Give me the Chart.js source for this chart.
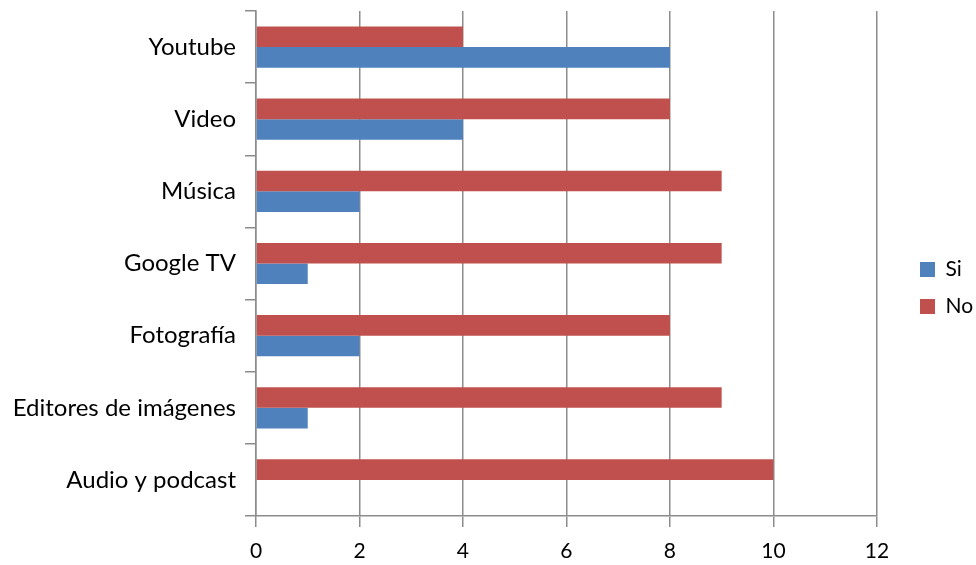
<!DOCTYPE html>
<html>
<head>
<meta charset="utf-8">
<script src="https://cdn.jsdelivr.net/npm/chart.js@4"></script>
<style>
html,body{margin:0;padding:0;background:#fff;}
#wrap{width:976px;height:565px;position:relative;}
</style>
</head>
<body>
<div id="wrap"><canvas id="c" width="976" height="565"></canvas></div>
<script>
const categories = ["Youtube", "Video", "Música", "Google TV", "Fotografía", "Editores de imágenes", "Audio y podcast"];
const siValues = [8, 4, 2, 1, 2, 1, 0];
const noValues = [4, 8, 9, 9, 8, 9, 10];
const xTicks = [0, 2, 4, 6, 8, 10, 12];

const FONT = "Lato, 'Liberation Sans', sans-serif";
const GRID = '#8c8c8c';

const legendShift = {
  id: 'legendShift',
  afterLayout(chart) {
    const lg = chart.legend;
    if (!lg) return;
    const dx = 904 - lg.left;
    lg.left += dx;
    lg.right += dx;
  }
};

new Chart(document.getElementById('c'), {
  type: 'bar',
  data: {
    labels: categories,
    datasets: [
      { label: 'No', data: noValues, backgroundColor: '#C0504D', borderWidth: 0,
        categoryPercentage: 0.5714, barPercentage: 1.0 },
      { label: 'Si', data: siValues, backgroundColor: '#4F81BD', borderWidth: 0,
        categoryPercentage: 0.5714, barPercentage: 1.0 }
    ]
  },
  plugins: [legendShift],
  options: {
    indexAxis: 'y',
    responsive: false,
    animation: false,
    maintainAspectRatio: false,
    layout: { padding: { top: 11, left: 0, right: 20, bottom: 0 } },
    plugins: {
      legend: {
        position: 'right',
        reverse: true,
        labels: {
          font: { family: FONT, size: 21 },
          color: '#000',
          boxWidth: 15,
          boxHeight: 15,
          padding: 16
        }
      },
      tooltip: { enabled: false }
    },
    scales: {
      x: {
        type: 'linear',
        min: 0,
        max: 12,
        afterBuildTicks: (axis) => { axis.ticks = xTicks.map(v => ({ value: v })); },
        afterFit: (axis) => { axis.height = 49; },
        ticks: { font: { family: FONT, size: 21 }, color: '#000', padding: 12 },
        grid: { color: GRID, lineWidth: 1.5, tickLength: 11, drawTicks: true },
        border: { display: true, color: GRID, width: 1.5 }
      },
      y: {
        type: 'category',
        offset: true,
        afterFit: (axis) => { axis.width = 256; axis.paddingTop = 0; axis.paddingBottom = 0; },
        ticks: { font: { family: FONT, size: 24 }, color: '#000', padding: 9 },
        grid: { display: true, offset: true, drawOnChartArea: false, drawTicks: true, tickLength: 11, color: GRID, lineWidth: 1.5 },
        border: { display: true, color: GRID, width: 1.5 }
      }
    }
  }
});
</script>
</body>
</html>
